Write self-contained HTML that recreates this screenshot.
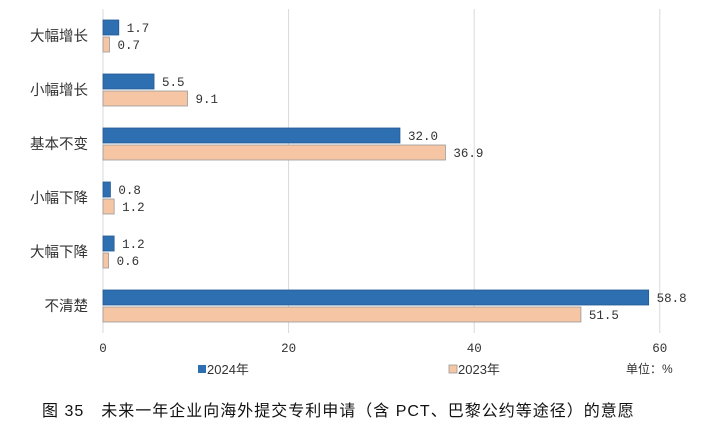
<!DOCTYPE html>
<html><head><meta charset="utf-8"><style>
body{margin:0;background:#fff;width:720px;height:434px;overflow:hidden;position:relative}
.serif{font-family:"Liberation Serif","Noto Serif CJK SC",serif}
.mono{font-family:"Liberation Mono",monospace}
.sans{font-family:"Liberation Sans","Noto Sans CJK SC",sans-serif}
</style></head><body>
<svg id="c" width="720" height="434"></svg>
<script>
const categories=["大幅增长","小幅增长","基本不变","小幅下降","大幅下降","不清楚"];
const values2024=[1.7,5.5,32.0,0.8,1.2,58.8];
const values2023=[0.7,9.1,36.9,1.2,0.6,51.5];
const ticks=[0,20,40,60];
const NS="http://www.w3.org/2000/svg";
const svg=document.getElementById('c');
const x0=103,xs=9.28,plotTop=9,band=54;
const X=v=>x0+v*xs;
function el(t,a,txt){const e=document.createElementNS(NS,t);for(const k in a)e.setAttribute(k,a[k]);if(txt!==undefined)e.textContent=txt;svg.appendChild(e);return e;}
ticks.forEach(t=>{
 const g=el('line',{x1:X(t),x2:X(t),y1:plotTop,y2:plotTop+band*6,stroke:'#d9d9d9','stroke-width':1});
 
 
 const l=el('text',{x:X(t),y:352,'text-anchor':'middle','font-size':12.5,fill:'#333','class':'mono'},t);
 
 
});
categories.forEach((c,i)=>{
 const cy=plotTop+band*i+band/2;
 const t=el('text',{x:88,y:cy+5,'text-anchor':'end','font-size':14.5,fill:'#333','class':'sans'},c);
 
 
 const b1=el('rect',{x:x0,y:cy-16,width:X(values2024[i])-x0,height:15,fill:'#2e6fb2',stroke:'#245a92','stroke-width':0.8});
 
 
 const v1=el('text',{x:X(values2024[i])+8,y:cy-4,'font-size':12.5,fill:'#333','class':'mono'},values2024[i].toFixed(1));
 
 
 const b2=el('rect',{x:x0,y:cy+1,width:X(values2023[i])-x0,height:15,fill:'#f6c6a4',stroke:'#999','stroke-width':0.8});
 
 
 const v2=el('text',{x:X(values2023[i])+8,y:cy+13,'font-size':12.5,fill:'#333','class':'mono'},values2023[i].toFixed(1));
 
 
});
</script>
<svg width="720" height="434" style="position:absolute;left:0;top:0">
<g>
<rect x="198" y="365" width="8" height="8" fill="#2e6fb2"/>
<text x="207" y="374" font-size="13" fill="#333" class="sans">2024年</text>
<rect x="449" y="365" width="8" height="8" fill="#f6c6a4" stroke="#999" stroke-width="0.8"/>
<text x="458" y="374" font-size="13" fill="#333" class="sans">2023年</text>
</g>
<text x="626" y="373" font-size="12" fill="#333" class="sans">单位：%</text>
<text x="42" y="416" font-size="16" letter-spacing="1" fill="#111" class="sans">图 35　未来一年企业向海外提交专利申请（含 PCT、巴黎公约等途径）的意愿</text>
</svg>
</body></html>
